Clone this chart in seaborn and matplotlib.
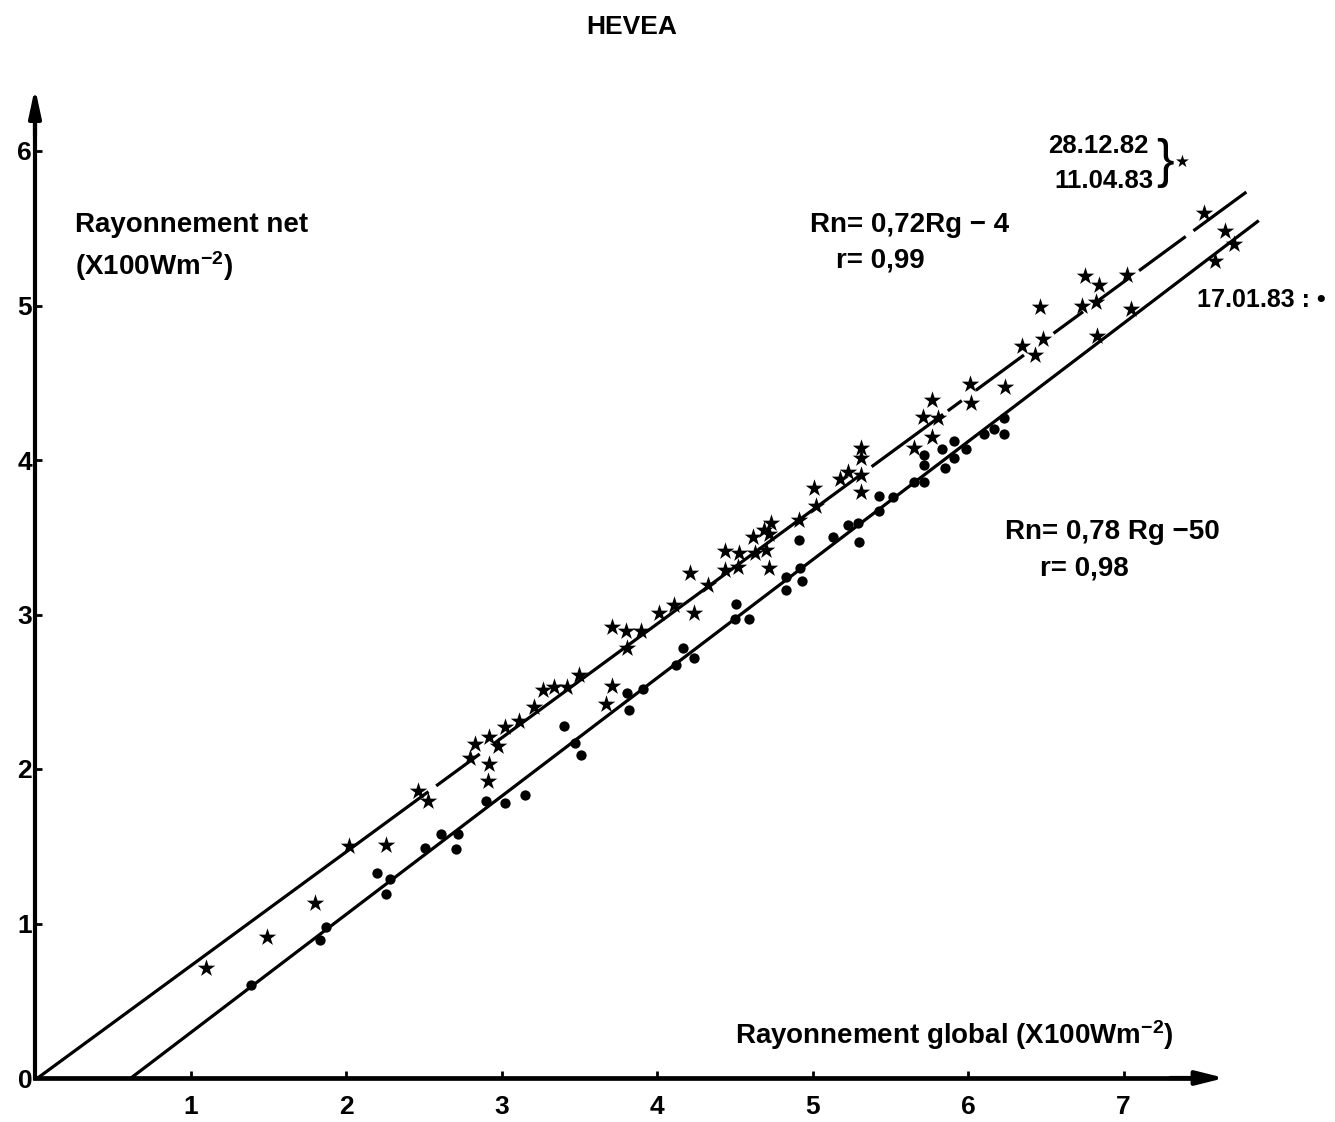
import numpy as np
import pandas as pd
import matplotlib
matplotlib.use("Agg")
import matplotlib.pyplot as plt
import seaborn as sns

# Rayonnement global (Rg) and net (Rn), in units of 100 W m-2
# Days 28.12.82 and 11.04.83 (stars)
star_rg = [1.10, 1.49, 1.80, 2.02, 2.26, 2.46, 2.53, 2.80, 2.83, 2.92, 2.92, 2.91,
           2.98, 3.02, 3.11, 3.21, 3.27, 3.34, 3.42, 3.50, 3.67, 3.71, 3.71, 3.80,
           3.90, 3.81, 4.01, 4.11, 4.21, 4.24, 4.33, 4.44, 4.53, 4.44, 4.52, 4.62,
           4.69, 4.73, 4.72, 4.63, 4.70, 4.72, 4.91, 5.02, 5.01, 5.18, 5.23, 5.31,
           5.31, 5.31, 5.31, 5.65, 5.71, 5.77, 5.81, 5.77, 6.01, 6.02, 6.24, 6.35,
           6.43, 6.46, 6.48, 6.75, 6.73, 6.82, 6.84, 6.83, 7.02, 7.05, 7.52, 7.65,
           7.59, 7.71]
star_rn = [0.71, 0.91, 1.13, 1.50, 1.51, 1.86, 1.79, 2.07, 2.16, 2.21, 2.03, 1.92,
           2.15, 2.27, 2.31, 2.40, 2.51, 2.53, 2.53, 2.61, 2.42, 2.54, 2.92, 2.89,
           2.89, 2.78, 3.01, 3.06, 3.27, 3.01, 3.19, 3.41, 3.40, 3.29, 3.31, 3.50,
           3.55, 3.59, 3.52, 3.40, 3.42, 3.30, 3.61, 3.70, 3.82, 3.88, 3.92, 4.08,
           4.01, 3.90, 3.79, 4.08, 4.28, 4.39, 4.27, 4.15, 4.49, 4.37, 4.47, 4.74,
           4.68, 4.99, 4.78, 5.19, 5.00, 5.02, 5.13, 4.80, 5.20, 4.98, 5.60, 5.48,
           5.29, 5.40]

# Day 17.01.83 (dots)
dot_rg = [1.39, 1.83, 1.87, 2.20, 2.28, 2.26, 2.51, 2.61, 2.72, 2.71, 2.90, 3.02,
          3.15, 3.40, 3.47, 3.51, 3.81, 3.82, 3.91, 4.12, 4.17, 4.24, 4.50, 4.51,
          4.59, 4.83, 4.83, 4.91, 4.92, 4.93, 5.13, 5.23, 5.29, 5.30, 5.43, 5.43,
          5.52, 5.65, 5.72, 5.72, 5.72, 5.83, 5.85, 5.91, 5.91, 5.99, 6.10, 6.17,
          6.23, 6.23]
dot_rn = [0.60, 0.89, 0.98, 1.33, 1.29, 1.19, 1.49, 1.58, 1.58, 1.48, 1.79, 1.78,
          1.83, 2.28, 2.17, 2.09, 2.49, 2.38, 2.52, 2.67, 2.78, 2.72, 2.97, 3.07,
          2.97, 3.24, 3.16, 3.48, 3.30, 3.22, 3.50, 3.58, 3.59, 3.47, 3.77, 3.67,
          3.76, 3.86, 3.86, 3.97, 4.03, 4.07, 3.95, 4.01, 4.12, 4.07, 4.17, 4.20,
          4.27, 4.17]

x_ticks = [1, 2, 3, 4, 5, 6, 7]
y_ticks = [0, 1, 2, 3, 4, 5, 6]

# Extent of the fitted lines and the breaks in the upper (star) line
star_line_end = 7.79
dot_line_end = 7.87
star_line_gaps = [(2.53, 2.58), (2.86, 2.95), (5.32, 5.38),
                  (5.84, 5.87), (5.96, 6.05), (6.36, 6.55), (6.74, 6.84),
                  (7.03, 7.10), (7.40, 7.45)]

sns.set_theme(style="white")
plt.rcParams["font.family"] = ["Liberation Sans", "DejaVu Sans"]
plt.rcParams["font.weight"] = "bold"
plt.rcParams["mathtext.fontset"] = "custom"
plt.rcParams["mathtext.rm"] = "Liberation Sans:bold"
plt.rcParams["mathtext.bf"] = "Liberation Sans:bold"
plt.rcParams["mathtext.default"] = "rm"

W, H = 1335, 1122
fig = plt.figure(figsize=(W / 100, H / 100), dpi=100)
fig.patch.set_facecolor("white")
ax = fig.add_axes([0, 0, 1, 1])
ax.set_facecolor("white")

# pixel scale of the axes (origin and units)
X0, Y0, SX, SY = 35, 1078, 155.5, 154.5
ax.set_xlim(-X0 / SX, (W - X0) / SX)
ax.set_ylim(-(H - Y0) / SY, Y0 / SY)

star_df = pd.DataFrame({"Rg": star_rg, "Rn": star_rn})
dot_df = pd.DataFrame({"Rg": dot_rg, "Rn": dot_rn})

sns.scatterplot(data=star_df, x="Rg", y="Rn", marker="*", s=175, color="black",
                linewidth=0, ax=ax, legend=False, zorder=3)
sns.scatterplot(data=dot_df, x="Rg", y="Rn", marker="o", s=55, color="black",
                linewidth=0, ax=ax, legend=False, zorder=3)

# regression lines, drawn from y = 0 to the right end
def segments(x_start, x_end, gaps):
    pieces, cur = [], x_start
    for g0, g1 in gaps:
        if g0 > cur:
            pieces.append((cur, min(g0, x_end)))
        cur = max(cur, g1)
    if cur < x_end:
        pieces.append((cur, x_end))
    return pieces

b_s, a_s = np.polyfit(star_rg, star_rn, 1)
b_d, a_d = np.polyfit(dot_rg, dot_rn, 1)
for x_a, x_b in segments(-a_s / b_s, star_line_end, star_line_gaps):
    xs = np.array([x_a, x_b])
    ax.plot(xs, b_s * xs + a_s, color="black", lw=2.3, solid_capstyle="butt", zorder=2)
xs = np.array([-a_d / b_d, dot_line_end])
ax.plot(xs, b_d * xs + a_d, color="black", lw=2.3, solid_capstyle="butt", zorder=2)

# axes through the origin with arrow heads
for side in ["top", "right"]:
    ax.spines[side].set_visible(False)
ax.spines["left"].set_position(("data", 0))
ax.spines["bottom"].set_position(("data", 0))
ax.spines["left"].set_bounds(0, 6.25)
ax.spines["bottom"].set_bounds(0, 7.5)
ax.spines["left"].set_linewidth(3)
ax.spines["bottom"].set_linewidth(3.4)
ax.spines["left"].set_color("black")
ax.spines["bottom"].set_color("black")
ax.annotate("", xy=(7.65, 0), xytext=(7.3, 0),
            arrowprops=dict(arrowstyle="-|>,head_length=1.4,head_width=0.35",
                            lw=3, color="black", shrinkA=0, shrinkB=0))
ax.annotate("", xy=(0, 6.41), xytext=(0, 6.1),
            arrowprops=dict(arrowstyle="-|>,head_length=1.4,head_width=0.3",
                            lw=3, color="black", shrinkA=0, shrinkB=0))

ax.set_xticks(x_ticks)
ax.set_xticklabels([str(v) for v in x_ticks])
ax.set_yticks(y_ticks)
ax.set_yticklabels([str(v) for v in y_ticks])
ax.tick_params(axis="x", direction="in", length=5, width=2, pad=12,
               labelsize=19, colors="black", bottom=True)
ax.tick_params(axis="y", direction="in", length=5, width=2, pad=2,
               labelsize=19, colors="black", left=True)
for lab in ax.get_xticklabels() + ax.get_yticklabels():
    lab.set_fontweight("bold")
ax.set_xlabel("")
ax.set_ylabel("")
ax.grid(False)


def put(px, py, s, size=20, ha="left", **kw):
    fig.text(px / W, 1 - py / H, s, fontsize=size, ha=ha, va="center",
             fontweight="bold", color="black", **kw)


put(632, 27, "HEVEA", size=19, ha="center")
put(75, 225, "Rayonnement net")
put(75, 266, r"(X100Wm$^{-2}$)")
put(735, 1035, r"Rayonnement global (X100Wm$^{-2}$)")
put(810, 225, "Rn= 0,72Rg − 4")
put(836, 261, "r= 0,99")
put(1005, 532, "Rn= 0,78 Rg −50")
put(1040, 568, "r= 0,98")
put(1048, 146, "28.12.82", size=18.5)
put(1054, 181, "11.04.83", size=18.5)
fig.text(1156 / W, 1 - 163 / H, "}", fontsize=38, ha="left", va="center",
         fontweight="normal", color="black")
fig.text(1182 / W, 1 - 162 / H, "★", fontsize=12, ha="center", va="center",
         family="DejaVu Sans", color="black")
put(1197, 300, "17.01.83 : •", size=18)

fig.savefig("out.png", dpi=100, facecolor="white")
